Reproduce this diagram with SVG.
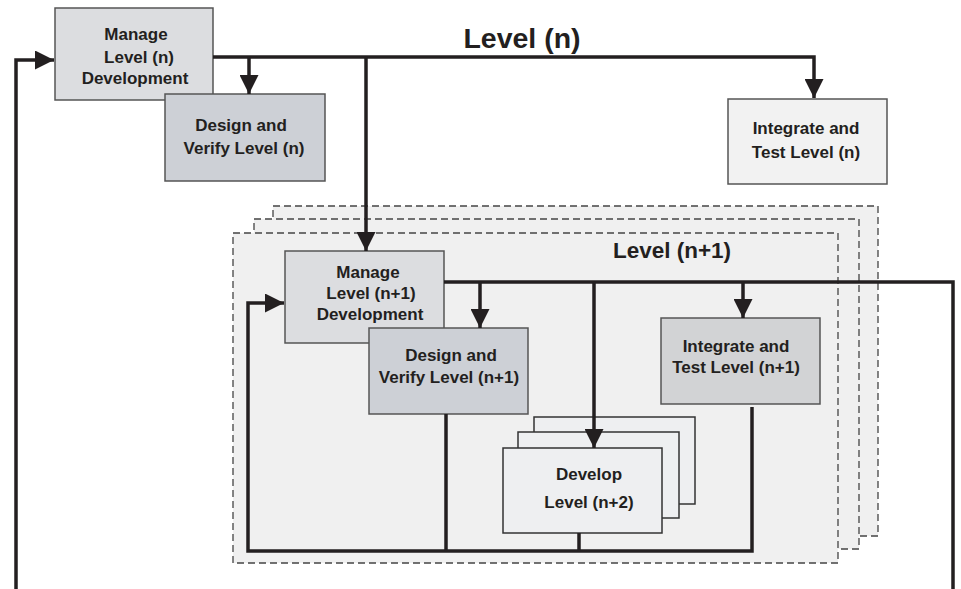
<svg xmlns="http://www.w3.org/2000/svg" width="961" height="589" viewBox="0 0 961 589">
<defs>
<style>
.t{font-family:"Liberation Sans",Arial,sans-serif;font-weight:bold;font-size:17px;fill:#231f20;text-anchor:middle}
.box{stroke:#555;stroke-width:1.5}
.frame{fill:#f0f0f0;stroke:#444;stroke-width:1.3;stroke-dasharray:7,4}
.stk{fill:#eeeff1;stroke:#333;stroke-width:1.5}
.c{fill:none;stroke:#231f20;stroke-width:3.5}
</style>
<marker id="ah" markerUnits="userSpaceOnUse" markerWidth="19" markerHeight="19" refX="19" refY="9.5" orient="auto" viewBox="0 0 19 19">
<path d="M0,0 L19,9.5 L0,19 z" fill="#231f20"/>
</marker>
</defs>
<rect width="961" height="589" fill="#fff"/>

<g id="level-n1-frames">
<rect class="frame" x="273" y="206" width="605" height="330"/>
<rect class="frame" x="254" y="219" width="605" height="330"/>
<rect class="frame" x="233" y="233" width="605" height="330"/>
</g>

<text x="522" y="48" class="t" style="font-size:28.5px">Level (n)</text>
<text x="672" y="258" class="t" style="font-size:22.5px">Level (n+1)</text>

<g id="manage-n">
<rect class="box" x="55" y="8" width="158" height="92" fill="#dcdde0"/>
<text class="t" x="136" y="40">Manage</text>
<text class="t" x="139" y="63">Level (n)</text>
<text class="t" x="135" y="84">Development</text>
</g>

<g id="design-n">
<rect class="box" x="165" y="94" width="160" height="87" fill="#cdd0d6"/>
<text class="t" x="241" y="131">Design and</text>
<text class="t" x="244" y="154">Verify Level (n)</text>
</g>

<g id="integrate-n">
<rect class="box" x="728" y="99" width="159" height="85" fill="#f2f2f2"/>
<text class="t" x="806" y="134">Integrate and</text>
<text class="t" x="806" y="158">Test Level (n)</text>
</g>

<g id="manage-n1">
<rect class="box" x="285" y="251" width="159" height="92" fill="#dcdde0"/>
<text class="t" x="368" y="278">Manage</text>
<text class="t" x="371" y="299">Level (n+1)</text>
<text class="t" x="370" y="320">Development</text>
</g>

<g id="design-n1">
<rect class="box" x="369" y="328" width="159" height="86" fill="#cdd0d6"/>
<text class="t" x="451" y="361">Design and</text>
<text class="t" x="449" y="383">Verify Level (n+1)</text>
</g>

<g id="integrate-n1">
<rect class="box" x="661" y="318" width="159" height="86" fill="#d2d3d5"/>
<text class="t" x="736" y="352">Integrate and</text>
<text class="t" x="736" y="373">Test Level (n+1)</text>
</g>

<g id="develop-n2">
<rect class="stk" x="534" y="417" width="161" height="87"/>
<rect class="stk" x="518" y="432" width="161" height="86"/>
<rect class="stk" x="503" y="448" width="159" height="85"/>
<text class="t" x="589" y="480">Develop</text>
<text class="t" x="589" y="508">Level (n+2)</text>
</g>

<g id="connectors">
<path class="c" d="M213,57 H814 V98" marker-end="url(#ah)"/>
<path class="c" d="M249,57 V94" marker-end="url(#ah)"/>
<path class="c" d="M366,57 V251" marker-end="url(#ah)"/>
<path class="c" d="M16,589 V60 H54" marker-end="url(#ah)"/>
<path class="c" d="M444,282 H953 V589"/>
<path class="c" d="M480,282 V328" marker-end="url(#ah)"/>
<path class="c" d="M594,282 V448" marker-end="url(#ah)"/>
<path class="c" d="M743,282 V318" marker-end="url(#ah)"/>
<path class="c" d="M752,407 V551 H248 V303 H284" marker-end="url(#ah)"/>
<path class="c" d="M446,414 V551"/>
<path class="c" d="M579,533 V551"/>
</g>
</svg>
